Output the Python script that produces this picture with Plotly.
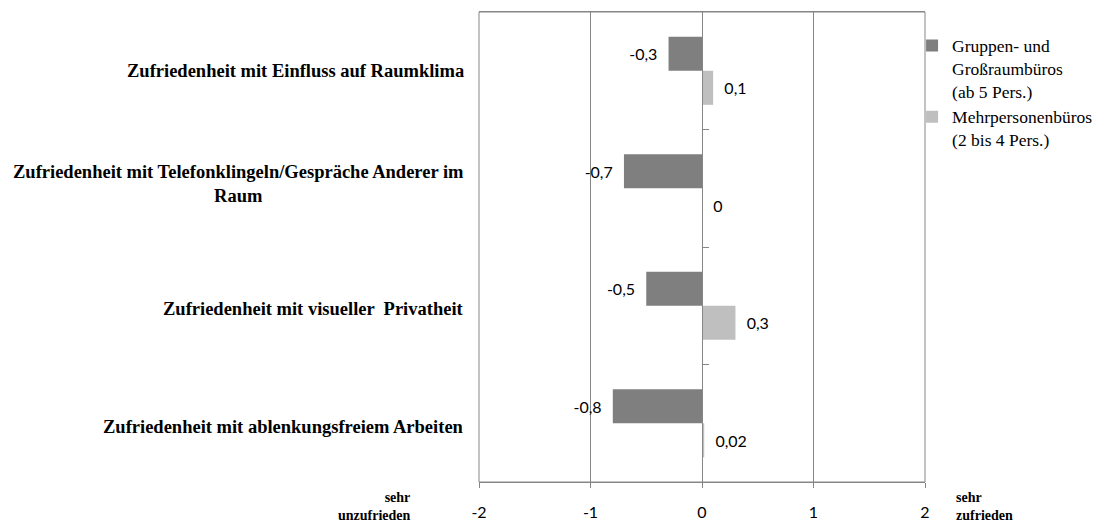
import plotly.graph_objects as go

categories = [
    "Zufriedenheit mit Einfluss auf Raumklima",
    "Zufriedenheit mit Telefonklingeln/Gespräche Anderer im Raum",
    "Zufriedenheit mit visueller  Privatheit",
    "Zufriedenheit mit ablenkungsfreiem Arbeiten",
]
display_labels = [
    "Zufriedenheit mit Einfluss auf Raumklima",
    "Zufriedenheit mit Telefonklingeln/Gespräche Anderer im<br>Raum",
    "Zufriedenheit mit visueller  Privatheit",
    "Zufriedenheit mit ablenkungsfreiem Arbeiten",
]
series_names = ["Gruppen- und<br>Großraumbüros<br>(ab 5 Pers.)", "Mehrpersonenbüros<br>(2 bis 4 Pers.)"]
gross = [-0.3, -0.7, -0.5, -0.8]
mehr = [0.1, 0.0, 0.3, 0.02]
gross_text = ["-0,3", "-0,7", "-0,5", "-0,8"]
mehr_text = ["0,1", "0", "0,3", "0,02"]
x_ticks = [-2, -1, 0, 1, 2]

grey = "#868686"
NB = "\u00a0"
label_font = dict(family="Lato, Carlito, Liberation Sans", size=16, color="#000000")
serif = "Liberation Serif, Times New Roman, serif"

fig = go.Figure()
fig.add_trace(go.Bar(
    y=categories, x=gross, orientation="h", name=series_names[0], legendgroup="a",
    marker=dict(color="#7f7f7f", line=dict(width=0)),
    text=[t + NB + NB for t in gross_text], textposition="outside", textfont=label_font,
    cliponaxis=False,
))
fig.add_trace(go.Bar(
    y=categories, x=mehr, orientation="h", name=series_names[1], legendgroup="b",
    marker=dict(color="#bfbfbf", line=dict(width=0)),
    text=[NB + NB + t for t in mehr_text], textposition="outside", textfont=label_font,
    cliponaxis=False,
))

label_shift = [0, 4, -3, -4]
for cat, lab, sh in zip(categories, display_labels, label_shift):
    fig.add_annotation(
        x=-0.03, xref="paper", y=cat, yref="y", text="<b>" + lab + "</b>",
        showarrow=False, xanchor="right", yanchor="middle", align="center", yshift=sh,
        font=dict(family=serif, size=18.5, color="#000000"),
    )

serif_b = dict(family=serif, size=14, color="#000000")
fig.add_annotation(x=-0.148, xref="paper", y=-0.013, yref="paper", text="<b>sehr<br>unzufrieden</b>",
                   showarrow=False, xanchor="right", yanchor="top", align="right", font=serif_b)
fig.add_annotation(x=1.064, xref="paper", y=-0.013, yref="paper", text="<b>sehr<br>zufrieden</b>",
                   showarrow=False, xanchor="left", yanchor="top", align="left", font=serif_b)

fig.add_shape(type="rect", xref="paper", yref="paper", x0=0, x1=1, y0=0, y1=1,
              line=dict(color=grey, width=1), layer="above")

fig.update_layout(
    width=1099, height=522,
    margin=dict(l=479, r=174, t=12, b=40, autoexpand=False),
    paper_bgcolor="white", plot_bgcolor="white",
    barmode="group", bargap=0.42, bargroupgap=0,
    showlegend=True,
    legend=dict(x=0.971, y=0.967, xanchor="left", yanchor="top", valign="top",
                font=dict(family=serif, size=17.5, color="#000000"),
                itemwidth=30, tracegroupgap=0, bgcolor="rgba(0,0,0,0)"),
    xaxis=dict(range=[-2, 2], tickvals=x_ticks, ticktext=[str(v) for v in x_ticks],
               showgrid=True, gridcolor=grey, gridwidth=1,
               zeroline=True, zerolinecolor=grey, zerolinewidth=1,
               showline=True, linecolor=grey, mirror=True, automargin=False,
               ticks="outside", ticklen=5, tickcolor=grey, ticklabelstandoff=11,
               tickfont=dict(family="Lato, Carlito, Liberation Sans", size=16, color="#000000"),
               fixedrange=True),
    yaxis=dict(categoryorder="array", categoryarray=categories, autorange="reversed",
               showticklabels=False, showgrid=False, zeroline=False, automargin=False,
               anchor="free", position=0.5, showline=True, linecolor=grey,
               ticks="inside", ticklen=6, tickcolor=grey, tickson="boundaries",
               fixedrange=True),
)

fig.write_html("out.html", config={"displayModeBar": False},
               post_script="document.body.style.margin='0';")
